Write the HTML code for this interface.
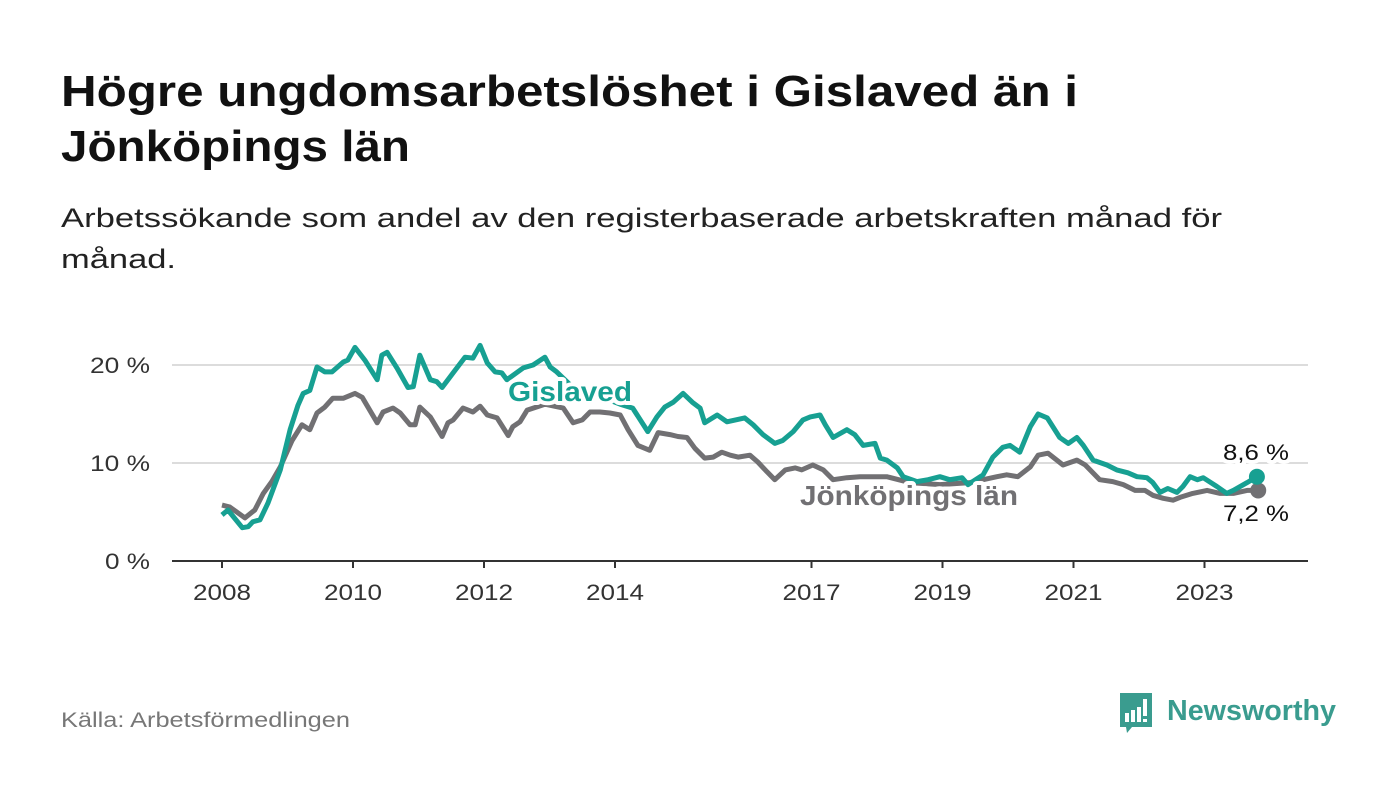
<!DOCTYPE html>
<html><head><meta charset="utf-8">
<style>
html,body{margin:0;padding:0;background:#fff;}
body{width:1400px;height:794px;overflow:hidden;font-family:"Liberation Sans",sans-serif;}
</style></head>
<body>
<svg id="chart" width="1400" height="794" viewBox="0 0 1400 794" xmlns="http://www.w3.org/2000/svg" font-family="Liberation Sans, sans-serif">
<rect width="1400" height="794" fill="#fff"/>
<text x="61" y="106" font-size="44" font-weight="bold" fill="#111" textLength="1017" lengthAdjust="spacingAndGlyphs">Högre ungdomsarbetslöshet i Gislaved än i</text>
<text x="61" y="161" font-size="44" font-weight="bold" fill="#111" textLength="349" lengthAdjust="spacingAndGlyphs">Jönköpings län</text>
<text x="61" y="227" font-size="27" fill="#222" textLength="1161" lengthAdjust="spacingAndGlyphs">Arbetssökande som andel av den registerbaserade arbetskraften månad för</text>
<text x="61" y="268" font-size="27" fill="#222" textLength="115" lengthAdjust="spacingAndGlyphs">månad.</text>
<g id="grid"></g>
<g id="axes"></g>
<g id="series"></g>
<g id="labels"></g>
<text x="61" y="727" font-size="21" fill="#777" textLength="289" lengthAdjust="spacingAndGlyphs">Källa: Arbetsförmedlingen</text>
<g>
<path d="M1120 693 h32 v34 h-20 l-5 6 l-1 -6 h-6 z" fill="#3a9c8f"/>
<rect x="1125" y="713" width="4" height="9" fill="#fff"/>
<rect x="1131" y="710" width="4" height="12" fill="#fff"/>
<rect x="1137" y="707" width="4" height="15" fill="#fff"/>
<rect x="1143" y="699" width="4" height="17" fill="#fff"/>
<rect x="1143" y="719" width="4" height="3" fill="#fff"/>
<text x="1167" y="720" font-size="29" font-weight="bold" fill="#3a9c8f" textLength="169" lengthAdjust="spacingAndGlyphs">Newsworthy</text>
</g>
</svg>
<script>
const gisYears=[2008.00,2008.09,2008.31,2008.40,2008.47,2008.58,2008.70,2008.89,2009.04,2009.16,2009.24,2009.34,2009.45,2009.57,2009.68,2009.85,2009.92,2010.03,2010.18,2010.37,2010.44,2010.52,2010.67,2010.84,2010.92,2011.02,2011.18,2011.28,2011.36,2011.53,2011.71,2011.83,2011.94,2012.05,2012.17,2012.27,2012.35,2012.60,2012.75,2012.93,2013.01,2013.11,2013.39,2013.77,2014.08,2014.27,2014.50,2014.64,2014.76,2014.89,2015.04,2015.18,2015.30,2015.37,2015.56,2015.71,2015.98,2016.11,2016.26,2016.44,2016.56,2016.72,2016.87,2016.98,2017.13,2017.21,2017.33,2017.54,2017.66,2017.79,2017.97,2018.05,2018.15,2018.31,2018.40,2018.61,2018.78,2018.96,2019.11,2019.30,2019.39,2019.62,2019.77,2019.92,2020.03,2020.18,2020.34,2020.46,2020.60,2020.79,2020.92,2021.05,2021.15,2021.30,2021.51,2021.66,2021.83,2021.97,2022.12,2022.21,2022.32,2022.44,2022.58,2022.67,2022.78,2022.89,2022.98,2023.19,2023.34,2023.44,2023.65,2023.80];
const gisValues=[4.7,5.2,3.4,3.5,4.0,4.2,5.9,9.3,13.4,15.9,17.1,17.4,19.8,19.3,19.3,20.3,20.5,21.8,20.5,18.5,21.0,21.3,19.7,17.7,17.8,21.0,18.5,18.3,17.7,19.2,20.8,20.7,22.0,20.2,19.3,19.2,18.5,19.7,20.0,20.8,19.8,19.3,17.5,16.8,16.0,15.6,13.2,14.7,15.7,16.2,17.1,16.2,15.6,14.1,14.9,14.2,14.6,13.9,12.9,12.0,12.3,13.2,14.4,14.7,14.9,13.9,12.6,13.4,12.9,11.8,12.0,10.5,10.3,9.5,8.6,8.1,8.3,8.6,8.3,8.5,7.8,8.8,10.6,11.6,11.8,11.1,13.7,15.0,14.6,12.6,12.0,12.6,11.8,10.3,9.8,9.3,9.0,8.6,8.5,8.0,7.0,7.4,7.0,7.6,8.6,8.3,8.5,7.6,6.9,7.2,8.0,8.6];
const lanYears=[2008.00,2008.12,2008.35,2008.50,2008.63,2008.76,2008.89,2009.07,2009.22,2009.34,2009.45,2009.57,2009.69,2009.85,2010.03,2010.14,2010.37,2010.46,2010.61,2010.72,2010.87,2010.95,2011.02,2011.18,2011.36,2011.45,2011.53,2011.68,2011.83,2011.94,2012.05,2012.20,2012.37,2012.44,2012.55,2012.66,2012.93,2013.21,2013.36,2013.50,2013.62,2013.77,2013.92,2014.08,2014.20,2014.35,2014.53,2014.66,2014.84,2014.96,2015.10,2015.22,2015.37,2015.50,2015.63,2015.76,2015.88,2016.06,2016.18,2016.32,2016.44,2016.60,2016.75,2016.85,2017.02,2017.18,2017.33,2017.54,2017.74,2018.00,2018.15,2018.50,2018.96,2019.42,2019.83,2019.98,2020.15,2020.34,2020.46,2020.61,2020.84,2021.05,2021.18,2021.40,2021.60,2021.76,2021.94,2022.09,2022.21,2022.37,2022.52,2022.63,2022.82,2023.04,2023.24,2023.44,2023.65,2023.82];
const lanValues=[5.7,5.5,4.4,5.2,6.9,8.1,9.6,12.3,13.9,13.4,15.1,15.7,16.6,16.6,17.1,16.7,14.1,15.2,15.6,15.1,13.9,13.9,15.7,14.7,12.7,14.1,14.4,15.6,15.2,15.8,14.9,14.6,12.8,13.7,14.2,15.4,16.0,15.6,14.1,14.4,15.2,15.2,15.1,14.9,13.4,11.8,11.3,13.1,12.9,12.7,12.6,11.5,10.5,10.6,11.1,10.8,10.6,10.8,10.1,9.1,8.3,9.3,9.5,9.3,9.8,9.3,8.3,8.5,8.6,8.6,8.6,8.0,7.8,8.0,8.6,8.8,8.6,9.6,10.8,11.0,9.8,10.3,9.8,8.3,8.1,7.8,7.2,7.2,6.7,6.4,6.2,6.5,6.9,7.2,6.9,6.9,7.2,7.2];
const xTicks=[2008,2010,2012,2014,2017,2019,2021,2023];
const yTicks=[0,10,20];
const yTickLabels=["0 %","10 %","20 %"];

const NS="http://www.w3.org/2000/svg";
const X0=222,PXY=65.5,Y0=561,PXV=9.8,LEFT=172,RIGHT=1308;
const xs=y=>X0+(y-2008)*PXY, ys=v=>Y0-v*PXV;
function mk(tag,attrs,parent){const e=document.createElementNS(NS,tag);for(const k in attrs)e.setAttribute(k,attrs[k]);parent.appendChild(e);return e;}
const grid=document.getElementById('grid'),axes=document.getElementById('axes'),series=document.getElementById('series'),labels=document.getElementById('labels');
yTicks.forEach((t,i)=>{
  if(t>0){const l=mk('line',{x1:LEFT,x2:RIGHT,y1:ys(t),y2:ys(t),stroke:'#dcdcdc','stroke-width':2},grid);
  
  }
  const tx=mk('text',{x:150,y:ys(t)+8,'text-anchor':'end','font-size':22,fill:'#333',textLength:yTickLabels[i].length*15,lengthAdjust:'spacingAndGlyphs'},axes);
  tx.textContent=yTickLabels[i];
  
  
});
const ax=mk('line',{x1:LEFT,x2:RIGHT,y1:Y0,y2:Y0,stroke:'#333','stroke-width':2},axes);


xTicks.forEach(t=>{
  const tk=mk('line',{x1:xs(t),x2:xs(t),y1:Y0,y2:Y0+7,stroke:'#333','stroke-width':2},axes);
  
  
  const tx=mk('text',{x:xs(t),y:600,'text-anchor':'middle','font-size':22,fill:'#333',textLength:58,lengthAdjust:'spacingAndGlyphs'},axes);
  tx.textContent=t;
  
  
});
function path(yrs,vals){return yrs.map((y,i)=>(i?'L':'M')+xs(y).toFixed(1)+' '+ys(vals[i]).toFixed(1)).join(' ');}
const pl=mk('path',{d:path(lanYears,lanValues),fill:'none',stroke:'#717073','stroke-width':5,'stroke-linejoin':'round'},series);


const pg=mk('path',{d:path(gisYears,gisValues),fill:'none',stroke:'#17a092','stroke-width':5,'stroke-linejoin':'round'},series);


const lgY=lanYears[lanYears.length-1],lgV=lanValues[lanValues.length-1];
const ggY=gisYears[gisYears.length-1],ggV=gisValues[gisValues.length-1];
const cl=mk('circle',{cx:xs(lgY),cy:ys(lgV),r:8,fill:'#717073'},series);


const cg=mk('circle',{cx:xs(ggY),cy:ys(ggV),r:8,fill:'#17a092'},series);


function halo(txt,x,y,size,color,weight,name,anchor,len){
  const a=mk('text',{x:x,y:y,'font-size':size,'font-weight':weight,fill:'#fff',stroke:'#fff','stroke-width':8,'stroke-linejoin':'round','text-anchor':anchor,textLength:len,lengthAdjust:'spacingAndGlyphs'},labels);
  a.textContent=txt;
  const b=mk('text',{x:x,y:y,'font-size':size,'font-weight':weight,fill:color,'text-anchor':anchor,textLength:len,lengthAdjust:'spacingAndGlyphs'},labels);
  b.textContent=txt;
  
  
}
halo('Gislaved',508,401,28,'#17a092','bold','gislaved-series-label','start',124);
halo('Jönköpings län',800,505,28,'#717073','bold','jonkopings-lan-series-label','start',218);
halo(String(ggV).replace('.',',')+' %',1289,460,22,'#111','normal','gislaved-end-value','end',66);
halo(String(lgV).replace('.',',')+' %',1289,521,22,'#111','normal','jonkopings-lan-end-value','end',66);
</script>
</body></html>
